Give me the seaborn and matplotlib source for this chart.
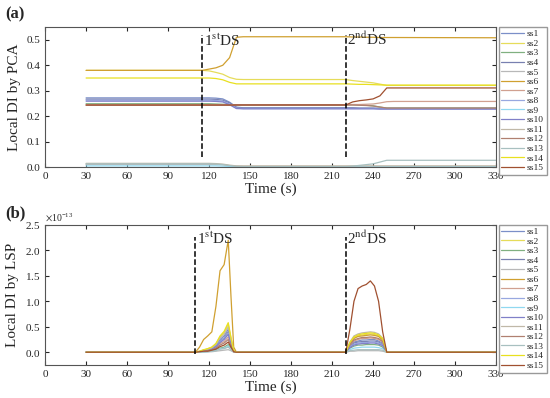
import numpy as np
import pandas as pd
import matplotlib
matplotlib.use('Agg')
import matplotlib.pyplot as plt
import seaborn as sns
from matplotlib.ticker import ScalarFormatter

# sensor names and line colours
sensors = ['ss%d' % i for i in range(1, 16)]
colors = ['#7b8fc8', '#e6dc5a', '#80b080', '#7880b0', '#b8b8b8',
          '#d0a030', '#d0a090', '#98a8e0', '#90d8f0', '#8080c8',
          '#c0b8a8', '#b08070', '#a8c0c0', '#e8e020', '#a05030']

# (a) local DI by PCA, sampled at these times (s)
t_pca = [30, 115, 120, 125, 130, 135, 140, 145, 220, 225, 230, 235, 240, 245, 250, 255, 330]
pca_ss1 = [0.272, 0.272, 0.272, 0.271, 0.268, 0.255, 0.236, 0.233, 0.233, 0.233, 0.232, 0.232, 0.232, 0.231, 0.231, 0.231, 0.231]
pca_ss2 = [0.380, 0.380, 0.378, 0.372, 0.365, 0.352, 0.345, 0.344, 0.344, 0.340, 0.337, 0.334, 0.331, 0.326, 0.321, 0.321, 0.321]
pca_ss3 = [0.249, 0.249, 0.249, 0.248, 0.247, 0.246, 0.245, 0.245, 0.245, 0.245, 0.244, 0.243, 0.241, 0.236, 0.232, 0.232, 0.232]
pca_ss4 = [0.267, 0.267, 0.267, 0.266, 0.263, 0.252, 0.234, 0.232, 0.232, 0.232, 0.231, 0.231, 0.231, 0.230, 0.230, 0.230, 0.230]
pca_ss5 = [0.011, 0.011, 0.011, 0.010, 0.009, 0.006, 0.004, 0.003, 0.003, 0.003, 0.003, 0.003, 0.003, 0.003, 0.003, 0.003, 0.003]
pca_ss6 = [0.380, 0.380, 0.385, 0.390, 0.400, 0.430, 0.510, 0.512, 0.512, 0.511, 0.511, 0.510, 0.510, 0.509, 0.509, 0.509, 0.508]
pca_ss7 = [0.245, 0.245, 0.245, 0.245, 0.245, 0.245, 0.245, 0.245, 0.245, 0.246, 0.246, 0.247, 0.248, 0.252, 0.257, 0.258, 0.258]
pca_ss8 = [0.263, 0.263, 0.263, 0.262, 0.259, 0.248, 0.232, 0.230, 0.230, 0.230, 0.230, 0.230, 0.230, 0.229, 0.229, 0.229, 0.229]
pca_ss9 = [0.005, 0.005, 0.005, 0.005, 0.004, 0.003, 0.002, 0.002, 0.002, 0.002, 0.002, 0.002, 0.002, 0.002, 0.002, 0.002, 0.002]
pca_ss10 = [0.259, 0.259, 0.259, 0.258, 0.256, 0.245, 0.230, 0.229, 0.229, 0.229, 0.229, 0.229, 0.229, 0.228, 0.228, 0.228, 0.228]
pca_ss11 = [0.015, 0.015, 0.015, 0.014, 0.012, 0.008, 0.005, 0.005, 0.005, 0.005, 0.005, 0.005, 0.005, 0.005, 0.005, 0.005, 0.005]
pca_ss12 = [0.243, 0.243, 0.243, 0.243, 0.243, 0.243, 0.244, 0.244, 0.244, 0.244, 0.243, 0.242, 0.240, 0.236, 0.232, 0.232, 0.232]
pca_ss13 = [0.013, 0.013, 0.013, 0.012, 0.010, 0.006, 0.003, 0.002, 0.002, 0.004, 0.007, 0.010, 0.013, 0.020, 0.027, 0.027, 0.027]
pca_ss14 = [0.350, 0.350, 0.350, 0.348, 0.343, 0.333, 0.327, 0.327, 0.327, 0.326, 0.325, 0.325, 0.324, 0.323, 0.322, 0.322, 0.322]
pca_ss15 = [0.244, 0.244, 0.244, 0.244, 0.244, 0.244, 0.244, 0.244, 0.244, 0.256, 0.261, 0.264, 0.268, 0.280, 0.311, 0.311, 0.311]

# (b) local DI by LSP (x1e-13), sampled at these times (s)
t_lsp = [30, 110, 113, 116, 119, 122, 125, 128, 131, 134, 136, 138, 140,
         220, 223, 226, 229, 232, 235, 238, 241, 244, 247, 250, 330]
lsp_ss1 = [0, 0, 0.01, 0.04, 0.05, 0.08, 0.14, 0.25, 0.32, 0.45, 0.22, 0.02, 0,
           0, 0.12, 0.20, 0.22, 0.24, 0.24, 0.25, 0.25, 0.22, 0.18, 0, 0]
lsp_ss2 = [0, 0, 0.02, 0.04, 0.07, 0.10, 0.17, 0.30, 0.38, 0.55, 0.28, 0.03, 0,
           0, 0.18, 0.29, 0.32, 0.34, 0.35, 0.36, 0.35, 0.32, 0.25, 0, 0]
lsp_ss3 = [0, 0, 0, 0.01, 0.02, 0.03, 0.05, 0.08, 0.10, 0.15, 0.08, 0.01, 0,
           0, 0.08, 0.12, 0.14, 0.14, 0.15, 0.15, 0.15, 0.14, 0.10, 0, 0]
lsp_ss4 = [0, 0, 0.01, 0.03, 0.05, 0.07, 0.12, 0.22, 0.28, 0.40, 0.20, 0.02, 0,
           0, 0.11, 0.18, 0.20, 0.21, 0.21, 0.22, 0.22, 0.20, 0.15, 0, 0]
lsp_ss5 = [0, 0, 0, 0, 0.01, 0.01, 0.02, 0.03, 0.04, 0.05, 0.03, 0, 0,
           0, 0.02, 0.02, 0.03, 0.03, 0.03, 0.03, 0.03, 0.03, 0.02, 0, 0]
lsp_ss6 = [0, 0, 0.10, 0.25, 0.32, 0.40, 0.90, 1.60, 1.72, 2.20, 1.10, 0.10, 0,
           0, 0.17, 0.27, 0.31, 0.32, 0.33, 0.34, 0.33, 0.31, 0.24, 0, 0]
lsp_ss7 = [0, 0, 0.01, 0.02, 0.04, 0.05, 0.09, 0.17, 0.21, 0.30, 0.15, 0.02, 0,
           0, 0.14, 0.22, 0.25, 0.27, 0.27, 0.28, 0.27, 0.25, 0.20, 0, 0]
lsp_ss8 = [0, 0, 0.01, 0.03, 0.05, 0.07, 0.11, 0.21, 0.27, 0.38, 0.19, 0.02, 0,
           0, 0.10, 0.16, 0.18, 0.19, 0.19, 0.20, 0.20, 0.18, 0.14, 0, 0]
lsp_ss9 = [0, 0, 0, 0.01, 0.01, 0.02, 0.04, 0.07, 0.08, 0.12, 0.06, 0.01, 0,
           0, 0.05, 0.08, 0.09, 0.10, 0.10, 0.10, 0.10, 0.09, 0.07, 0, 0]
lsp_ss10 = [0, 0, 0.01, 0.03, 0.04, 0.06, 0.11, 0.19, 0.25, 0.35, 0.18, 0.02, 0,
            0, 0.09, 0.14, 0.16, 0.17, 0.17, 0.18, 0.18, 0.16, 0.13, 0, 0]
lsp_ss11 = [0, 0, 0.02, 0.04, 0.06, 0.09, 0.15, 0.28, 0.35, 0.50, 0.25, 0.03, 0,
            0, 0.20, 0.32, 0.36, 0.38, 0.39, 0.40, 0.39, 0.36, 0.28, 0, 0]
lsp_ss12 = [0, 0, 0.01, 0.02, 0.03, 0.05, 0.08, 0.14, 0.18, 0.25, 0.13, 0.01, 0,
            0, 0.15, 0.24, 0.27, 0.29, 0.29, 0.30, 0.29, 0.27, 0.21, 0, 0]
lsp_ss13 = [0, 0, 0, 0.01, 0.01, 0.02, 0.03, 0.06, 0.07, 0.10, 0.05, 0.01, 0,
            0, 0.03, 0.04, 0.05, 0.05, 0.05, 0.05, 0.05, 0.05, 0.04, 0, 0]
lsp_ss14 = [0, 0, 0.02, 0.05, 0.07, 0.10, 0.17, 0.32, 0.41, 0.58, 0.29, 0.03, 0,
            0, 0.19, 0.30, 0.34, 0.36, 0.37, 0.38, 0.37, 0.34, 0.27, 0, 0]
lsp_ss15 = [0, 0, 0.01, 0.02, 0.02, 0.04, 0.06, 0.11, 0.14, 0.20, 0.10, 0.01, 0,
            0, 0.45, 1.00, 1.25, 1.30, 1.33, 1.40, 1.30, 1.00, 0.40, 0, 0]

pca_vals = [pca_ss1, pca_ss2, pca_ss3, pca_ss4, pca_ss5, pca_ss6, pca_ss7, pca_ss8,
            pca_ss9, pca_ss10, pca_ss11, pca_ss12, pca_ss13, pca_ss14, pca_ss15]
lsp_vals = [lsp_ss1, lsp_ss2, lsp_ss3, lsp_ss4, lsp_ss5, lsp_ss6, lsp_ss7, lsp_ss8,
            lsp_ss9, lsp_ss10, lsp_ss11, lsp_ss12, lsp_ss13, lsp_ss14, lsp_ss15]


def long_form(times, series):
    rows = []
    for name, vals in zip(sensors, series):
        for t, v in zip(times, vals):
            rows.append((name, t, v))
    return pd.DataFrame(rows, columns=['sensor', 'time', 'value'])


df_pca = long_form(t_pca, pca_vals)
df_lsp = long_form(t_lsp, lsp_vals)
df_lsp['value'] = df_lsp['value'] * 1e-13

sns.set_style('ticks')
plt.rcParams['font.family'] = ['Liberation Serif', 'DejaVu Serif']
plt.rcParams['mathtext.fontset'] = 'stix'
palette = dict(zip(sensors, colors))

fig = plt.figure(figsize=(5.5, 3.98), dpi=100)
ax1 = fig.add_axes([0.082, 0.580, 0.820, 0.352])
ax2 = fig.add_axes([0.082, 0.083, 0.820, 0.352])

sns.lineplot(data=df_pca, x='time', y='value', hue='sensor', palette=palette,
             linewidth=0.9, ax=ax1, sort=False)
sns.lineplot(data=df_lsp, x='time', y='value', hue='sensor', palette=palette,
             linewidth=0.9, ax=ax2, sort=False)

# damage scenario markers
ax1.vlines([115, 220], 0.04, 0.52, colors='k', linestyles='--', linewidth=1.1)
ax1.text(116, 0.478, r'1$^{\rm st}$DS', fontsize=11)
ax1.text(221, 0.478, r'2$^{\rm nd}$DS', fontsize=11)
ax2.vlines([110, 220], -0.03e-13, 2.27e-13, colors='k', linestyles='--', linewidth=1.1)
ax2.text(111, 2.13e-13, r'1$^{\rm st}$DS', fontsize=11)
ax2.text(221, 2.13e-13, r'2$^{\rm nd}$DS', fontsize=11)

ax1.set_ylim(0, 0.55)
ax1.set_yticks(np.arange(0, 0.51, 0.1))
ax1.yaxis.set_major_formatter(plt.FormatStrFormatter('%.1f'))
ax2.set_ylim(-0.25e-13, 2.5e-13)
ax2.set_yticks(np.arange(0, 2.51e-13, 0.5e-13))
fmt = ScalarFormatter(useMathText=True)
fmt.set_powerlimits((0, 0))
ax2.yaxis.set_major_formatter(fmt)
ax2.yaxis.get_offset_text().set_fontsize(7)

for ax, ylab in [(ax1, 'Local DI by PCA'), (ax2, 'Local DI by LSP')]:
    ax.set_xlim(0, 330)
    ax.set_xticks(range(0, 331, 30))
    ax.set_xlabel('Time (s)', fontsize=11, labelpad=1)
    ax.set_ylabel(ylab, fontsize=11)
    ax.tick_params(direction='in', top=True, right=True, labelsize=8, length=3, width=0.8)
    for sp in ax.spines.values():
        sp.set_color('#555555')
        sp.set_linewidth(0.8)
    sns.move_legend(ax, 'upper left', bbox_to_anchor=(0.995, 1.035), title=None,
                    fontsize=6.8, labelspacing=0.1, handlelength=2.4,
                    handletextpad=0.3, borderpad=0.3, fancybox=False,
                    edgecolor='#999999', framealpha=1)

fig.text(0.01, 0.955, '(a)', fontsize=12, fontweight='bold')
fig.text(0.01, 0.455, '(b)', fontsize=12, fontweight='bold')

fig.savefig('out.png', dpi=100)
